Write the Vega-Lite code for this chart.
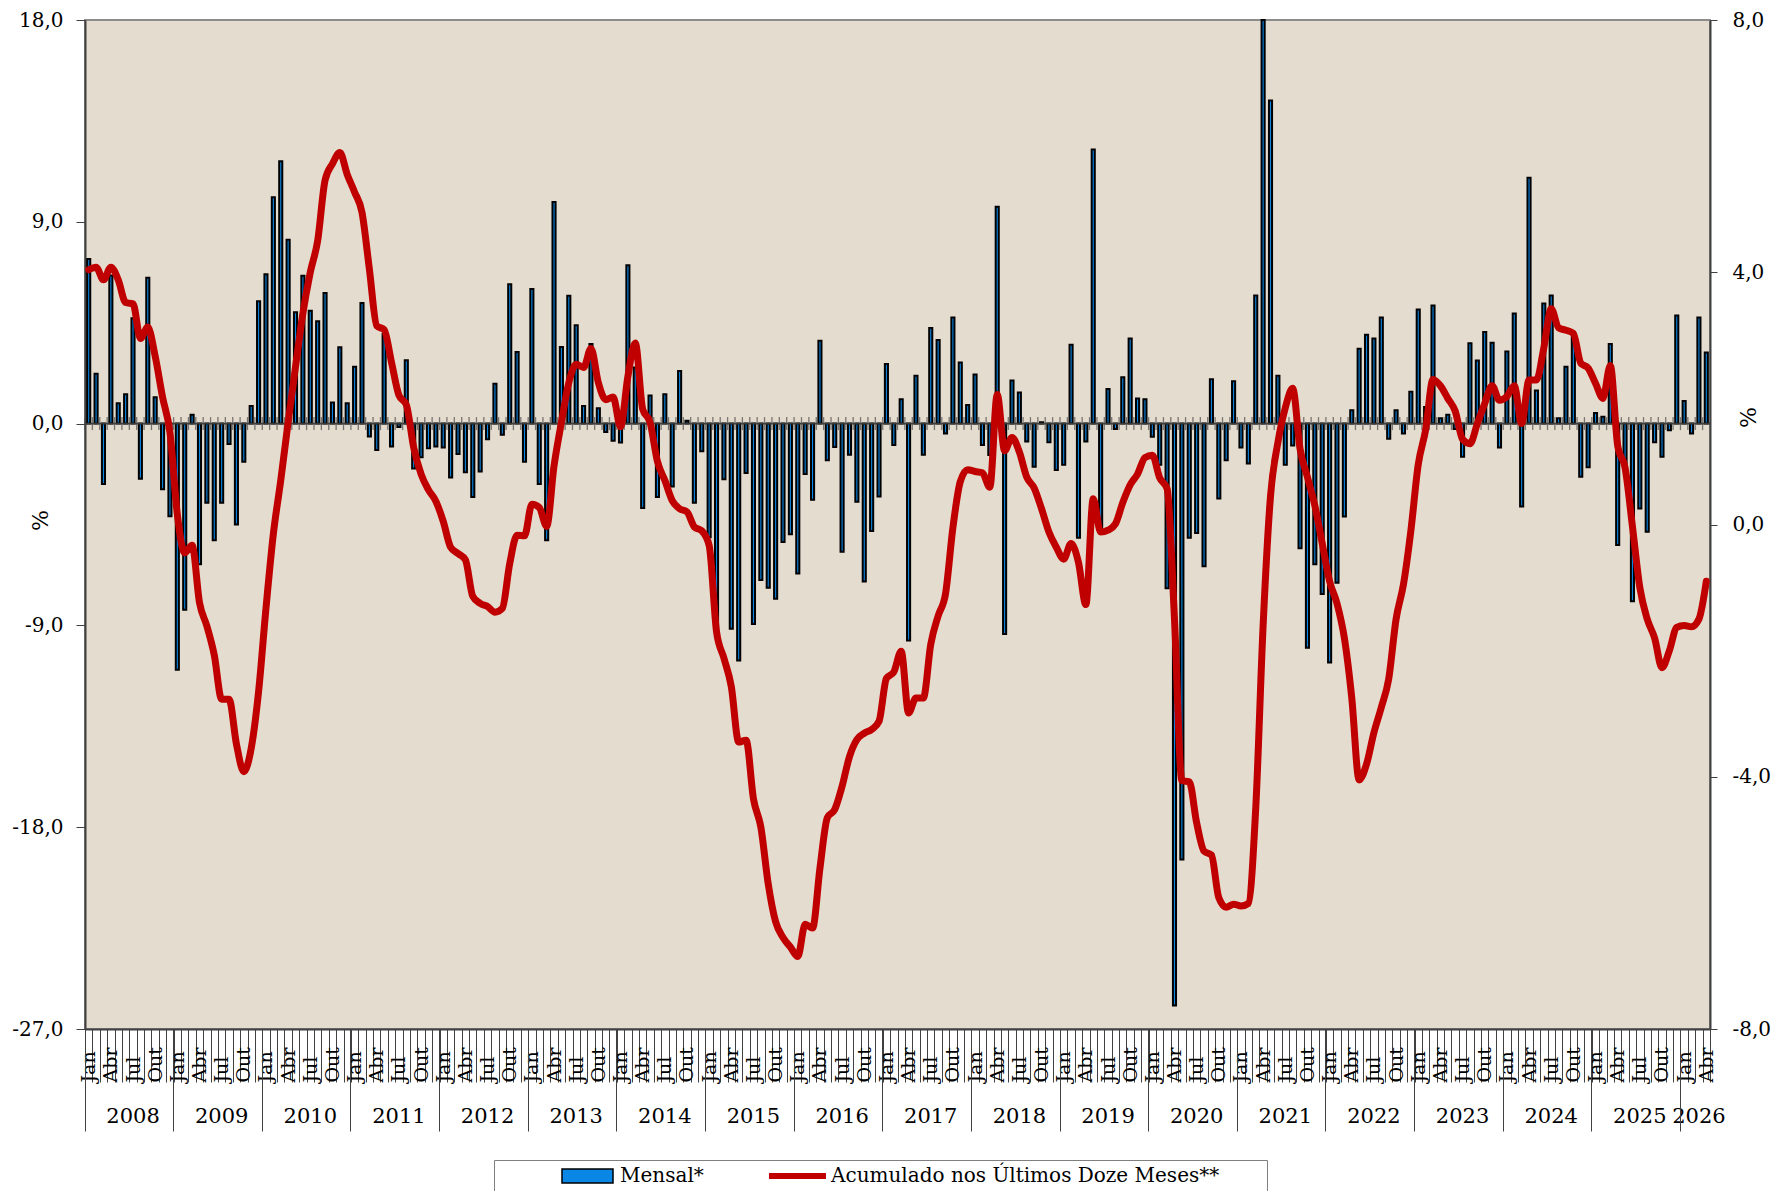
{
  "$schema": "https://vega.github.io/schema/vega-lite/v6.json",
  "width": 1625,
  "height": 1009,
  "autosize": "none",
  "padding": {"left": 85, "top": 20, "right": 63, "bottom": 162},
  "background": "#ffffff",
  "config": {
    "view": {"stroke": "#8c8c8c", "strokeWidth": 2, "fill": "#e4dccf"},
    "font": "DejaVu Serif",
    "axis": {"labelFont": "DejaVu Serif", "titleFont": "DejaVu Serif", "labelColor": "#000000", "titleColor": "#000000", "grid": false}
  },
  "data": {
    "values": [
      {"t": "2008-01", "mensal": 7.34, "acum": 4.04},
      {"t": "2008-02", "mensal": 2.22, "acum": 4.08},
      {"t": "2008-03", "mensal": -2.69, "acum": 3.88},
      {"t": "2008-04", "mensal": 6.61, "acum": 4.08},
      {"t": "2008-05", "mensal": 0.91, "acum": 3.88},
      {"t": "2008-06", "mensal": 1.31, "acum": 3.52},
      {"t": "2008-07", "mensal": 4.7, "acum": 3.5},
      {"t": "2008-08", "mensal": -2.46, "acum": 2.95},
      {"t": "2008-09", "mensal": 6.51, "acum": 3.13},
      {"t": "2008-10", "mensal": 1.18, "acum": 2.67},
      {"t": "2008-11", "mensal": -2.93, "acum": 2.02},
      {"t": "2008-12", "mensal": -4.13, "acum": 1.46},
      {"t": "2009-01", "mensal": -10.98, "acum": 0.16},
      {"t": "2009-02", "mensal": -8.3, "acum": -0.45},
      {"t": "2009-03", "mensal": 0.4, "acum": -0.33},
      {"t": "2009-04", "mensal": -6.27, "acum": -1.24},
      {"t": "2009-05", "mensal": -3.53, "acum": -1.61},
      {"t": "2009-06", "mensal": -5.2, "acum": -2.07},
      {"t": "2009-07", "mensal": -3.53, "acum": -2.77},
      {"t": "2009-08", "mensal": -0.91, "acum": -2.77},
      {"t": "2009-09", "mensal": -4.5, "acum": -3.48},
      {"t": "2009-10", "mensal": -1.7, "acum": -3.92},
      {"t": "2009-11", "mensal": 0.78, "acum": -3.55},
      {"t": "2009-12", "mensal": 5.46, "acum": -2.65},
      {"t": "2010-01", "mensal": 6.66, "acum": -1.33},
      {"t": "2010-02", "mensal": 10.1, "acum": -0.15},
      {"t": "2010-03", "mensal": 11.7, "acum": 0.7},
      {"t": "2010-04", "mensal": 8.2, "acum": 1.62},
      {"t": "2010-05", "mensal": 4.97, "acum": 2.5},
      {"t": "2010-06", "mensal": 6.59, "acum": 3.35},
      {"t": "2010-07", "mensal": 5.03, "acum": 4.0},
      {"t": "2010-08", "mensal": 4.57, "acum": 4.5},
      {"t": "2010-09", "mensal": 5.83, "acum": 5.46},
      {"t": "2010-10", "mensal": 0.94, "acum": 5.72},
      {"t": "2010-11", "mensal": 3.4, "acum": 5.9},
      {"t": "2010-12", "mensal": 0.91, "acum": 5.55},
      {"t": "2011-01", "mensal": 2.54, "acum": 5.27},
      {"t": "2011-02", "mensal": 5.38, "acum": 4.95},
      {"t": "2011-03", "mensal": -0.57, "acum": 4.05},
      {"t": "2011-04", "mensal": -1.18, "acum": 3.15},
      {"t": "2011-05", "mensal": 4.0, "acum": 3.09},
      {"t": "2011-06", "mensal": -1.02, "acum": 2.57},
      {"t": "2011-07", "mensal": -0.15, "acum": 2.05},
      {"t": "2011-08", "mensal": 2.82, "acum": 1.9},
      {"t": "2011-09", "mensal": -2.0, "acum": 1.22},
      {"t": "2011-10", "mensal": -1.5, "acum": 0.8},
      {"t": "2011-11", "mensal": -1.1, "acum": 0.55},
      {"t": "2011-12", "mensal": -1.02, "acum": 0.37},
      {"t": "2012-01", "mensal": -1.07, "acum": 0.05},
      {"t": "2012-02", "mensal": -2.4, "acum": -0.36},
      {"t": "2012-03", "mensal": -1.36, "acum": -0.46},
      {"t": "2012-04", "mensal": -2.17, "acum": -0.56},
      {"t": "2012-05", "mensal": -3.27, "acum": -1.14},
      {"t": "2012-06", "mensal": -2.14, "acum": -1.25},
      {"t": "2012-07", "mensal": -0.7, "acum": -1.3},
      {"t": "2012-08", "mensal": 1.78, "acum": -1.39},
      {"t": "2012-09", "mensal": -0.5, "acum": -1.33},
      {"t": "2012-10", "mensal": 6.22, "acum": -0.62},
      {"t": "2012-11", "mensal": 3.19, "acum": -0.17},
      {"t": "2012-12", "mensal": -1.7, "acum": -0.18},
      {"t": "2013-01", "mensal": 6.0, "acum": 0.32},
      {"t": "2013-02", "mensal": -2.69, "acum": 0.27},
      {"t": "2013-03", "mensal": -5.2, "acum": -0.03},
      {"t": "2013-04", "mensal": 9.88, "acum": 0.93},
      {"t": "2013-05", "mensal": 3.42, "acum": 1.62},
      {"t": "2013-06", "mensal": 5.7, "acum": 2.25},
      {"t": "2013-07", "mensal": 4.39, "acum": 2.54},
      {"t": "2013-08", "mensal": 0.78, "acum": 2.49},
      {"t": "2013-09", "mensal": 3.55, "acum": 2.79},
      {"t": "2013-10", "mensal": 0.68, "acum": 2.25},
      {"t": "2013-11", "mensal": -0.37, "acum": 1.98},
      {"t": "2013-12", "mensal": -0.76, "acum": 2.02},
      {"t": "2014-01", "mensal": -0.84, "acum": 1.55},
      {"t": "2014-02", "mensal": 7.06, "acum": 2.35},
      {"t": "2014-03", "mensal": 2.5, "acum": 2.88},
      {"t": "2014-04", "mensal": -3.76, "acum": 1.83},
      {"t": "2014-05", "mensal": 1.25, "acum": 1.62},
      {"t": "2014-06", "mensal": -3.27, "acum": 1.0},
      {"t": "2014-07", "mensal": 1.31, "acum": 0.7},
      {"t": "2014-08", "mensal": -2.8, "acum": 0.38},
      {"t": "2014-09", "mensal": 2.35, "acum": 0.25},
      {"t": "2014-10", "mensal": 0.13, "acum": 0.2},
      {"t": "2014-11", "mensal": -3.53, "acum": -0.04},
      {"t": "2014-12", "mensal": -1.23, "acum": -0.1},
      {"t": "2015-01", "mensal": -5.07, "acum": -0.33},
      {"t": "2015-02", "mensal": -9.5, "acum": -1.7},
      {"t": "2015-03", "mensal": -2.48, "acum": -2.12},
      {"t": "2015-04", "mensal": -9.15, "acum": -2.57},
      {"t": "2015-05", "mensal": -10.56, "acum": -3.45},
      {"t": "2015-06", "mensal": -2.2, "acum": -3.42},
      {"t": "2015-07", "mensal": -8.94, "acum": -4.35},
      {"t": "2015-08", "mensal": -6.98, "acum": -4.8},
      {"t": "2015-09", "mensal": -7.32, "acum": -5.7},
      {"t": "2015-10", "mensal": -7.81, "acum": -6.3},
      {"t": "2015-11", "mensal": -5.28, "acum": -6.55},
      {"t": "2015-12", "mensal": -4.94, "acum": -6.7},
      {"t": "2016-01", "mensal": -6.69, "acum": -6.85},
      {"t": "2016-02", "mensal": -2.25, "acum": -6.34},
      {"t": "2016-03", "mensal": -3.4, "acum": -6.4},
      {"t": "2016-04", "mensal": 3.7, "acum": -5.45},
      {"t": "2016-05", "mensal": -1.63, "acum": -4.65},
      {"t": "2016-06", "mensal": -1.04, "acum": -4.52},
      {"t": "2016-07", "mensal": -5.71, "acum": -4.15},
      {"t": "2016-08", "mensal": -1.39, "acum": -3.68},
      {"t": "2016-09", "mensal": -3.49, "acum": -3.41},
      {"t": "2016-10", "mensal": -7.04, "acum": -3.31},
      {"t": "2016-11", "mensal": -4.79, "acum": -3.25},
      {"t": "2016-12", "mensal": -3.25, "acum": -3.12},
      {"t": "2017-01", "mensal": 2.66, "acum": -2.44},
      {"t": "2017-02", "mensal": -0.95, "acum": -2.34},
      {"t": "2017-03", "mensal": 1.09, "acum": -2.01},
      {"t": "2017-04", "mensal": -9.67, "acum": -2.99},
      {"t": "2017-05", "mensal": 2.13, "acum": -2.75},
      {"t": "2017-06", "mensal": -1.39, "acum": -2.75},
      {"t": "2017-07", "mensal": 4.26, "acum": -1.9},
      {"t": "2017-08", "mensal": 3.73, "acum": -1.45},
      {"t": "2017-09", "mensal": -0.44, "acum": -1.1},
      {"t": "2017-10", "mensal": 4.73, "acum": -0.05},
      {"t": "2017-11", "mensal": 2.72, "acum": 0.68},
      {"t": "2017-12", "mensal": 0.83, "acum": 0.87},
      {"t": "2018-01", "mensal": 2.19, "acum": 0.84},
      {"t": "2018-02", "mensal": -0.95, "acum": 0.82},
      {"t": "2018-03", "mensal": -1.4, "acum": 0.59},
      {"t": "2018-04", "mensal": 9.67, "acum": 2.06},
      {"t": "2018-05", "mensal": -9.38, "acum": 1.17},
      {"t": "2018-06", "mensal": 1.92, "acum": 1.38},
      {"t": "2018-07", "mensal": 1.39, "acum": 1.15},
      {"t": "2018-08", "mensal": -0.8, "acum": 0.75},
      {"t": "2018-09", "mensal": -1.92, "acum": 0.58},
      {"t": "2018-10", "mensal": 0.06, "acum": 0.25},
      {"t": "2018-11", "mensal": -0.83, "acum": -0.12},
      {"t": "2018-12", "mensal": -2.07, "acum": -0.36},
      {"t": "2019-01", "mensal": -1.83, "acum": -0.55},
      {"t": "2019-02", "mensal": 3.52, "acum": -0.3},
      {"t": "2019-03", "mensal": -5.09, "acum": -0.6},
      {"t": "2019-04", "mensal": -0.8, "acum": -1.27},
      {"t": "2019-05", "mensal": 12.22, "acum": 0.41},
      {"t": "2019-06", "mensal": -4.7, "acum": -0.12},
      {"t": "2019-07", "mensal": 1.54, "acum": -0.09},
      {"t": "2019-08", "mensal": -0.24, "acum": 0.01},
      {"t": "2019-09", "mensal": 2.07, "acum": 0.35},
      {"t": "2019-10", "mensal": 3.79, "acum": 0.63},
      {"t": "2019-11", "mensal": 1.12, "acum": 0.8},
      {"t": "2019-12", "mensal": 1.09, "acum": 1.06},
      {"t": "2020-01", "mensal": -0.59, "acum": 1.1},
      {"t": "2020-02", "mensal": -1.83, "acum": 0.74},
      {"t": "2020-03", "mensal": -7.34, "acum": 0.57},
      {"t": "2020-04", "mensal": -25.95, "acum": -1.5},
      {"t": "2020-05", "mensal": -19.44, "acum": -4.06},
      {"t": "2020-06", "mensal": -5.09, "acum": -4.08},
      {"t": "2020-07", "mensal": -4.88, "acum": -4.73},
      {"t": "2020-08", "mensal": -6.36, "acum": -5.18},
      {"t": "2020-09", "mensal": 1.98, "acum": -5.24},
      {"t": "2020-10", "mensal": -3.34, "acum": -5.92},
      {"t": "2020-11", "mensal": -1.63, "acum": -6.07},
      {"t": "2020-12", "mensal": 1.89, "acum": -6.02},
      {"t": "2021-01", "mensal": -1.07, "acum": -6.05},
      {"t": "2021-02", "mensal": -1.78, "acum": -6.01},
      {"t": "2021-03", "mensal": 5.71, "acum": -4.5},
      {"t": "2021-04", "mensal": 18.0, "acum": -1.6},
      {"t": "2021-05", "mensal": 14.41, "acum": 0.45},
      {"t": "2021-06", "mensal": 2.13, "acum": 1.3},
      {"t": "2021-07", "mensal": -1.83, "acum": 1.85},
      {"t": "2021-08", "mensal": -0.98, "acum": 2.16},
      {"t": "2021-09", "mensal": -5.56, "acum": 1.2},
      {"t": "2021-10", "mensal": -10.0, "acum": 0.75},
      {"t": "2021-11", "mensal": -6.27, "acum": 0.3},
      {"t": "2021-12", "mensal": -7.6, "acum": -0.3},
      {"t": "2022-01", "mensal": -10.65, "acum": -0.9},
      {"t": "2022-02", "mensal": -7.1, "acum": -1.25},
      {"t": "2022-03", "mensal": -4.14, "acum": -1.8},
      {"t": "2022-04", "mensal": 0.59, "acum": -2.75},
      {"t": "2022-05", "mensal": 3.34, "acum": -4.05},
      {"t": "2022-06", "mensal": 3.96, "acum": -3.8},
      {"t": "2022-07", "mensal": 3.79, "acum": -3.3},
      {"t": "2022-08", "mensal": 4.73, "acum": -2.9},
      {"t": "2022-09", "mensal": -0.68, "acum": -2.45},
      {"t": "2022-10", "mensal": 0.59, "acum": -1.5},
      {"t": "2022-11", "mensal": -0.44, "acum": -0.95},
      {"t": "2022-12", "mensal": 1.42, "acum": -0.1},
      {"t": "2023-01", "mensal": 5.09, "acum": 0.95},
      {"t": "2023-02", "mensal": 0.74, "acum": 1.5},
      {"t": "2023-03", "mensal": 5.27, "acum": 2.3},
      {"t": "2023-04", "mensal": 0.24, "acum": 2.2},
      {"t": "2023-05", "mensal": 0.4, "acum": 2.0},
      {"t": "2023-06", "mensal": -0.24, "acum": 1.8},
      {"t": "2023-07", "mensal": -1.48, "acum": 1.35},
      {"t": "2023-08", "mensal": 3.58, "acum": 1.28},
      {"t": "2023-09", "mensal": 2.81, "acum": 1.6},
      {"t": "2023-10", "mensal": 4.08, "acum": 1.92},
      {"t": "2023-11", "mensal": 3.61, "acum": 2.2},
      {"t": "2023-12", "mensal": -1.07, "acum": 1.97},
      {"t": "2024-01", "mensal": 3.22, "acum": 2.03},
      {"t": "2024-02", "mensal": 4.91, "acum": 2.2},
      {"t": "2024-03", "mensal": -3.7, "acum": 1.6},
      {"t": "2024-04", "mensal": 10.96, "acum": 2.29},
      {"t": "2024-05", "mensal": 1.48, "acum": 2.29},
      {"t": "2024-06", "mensal": 5.36, "acum": 2.8},
      {"t": "2024-07", "mensal": 5.71, "acum": 3.42},
      {"t": "2024-08", "mensal": 0.24, "acum": 3.12},
      {"t": "2024-09", "mensal": 2.54, "acum": 3.08},
      {"t": "2024-10", "mensal": 3.91, "acum": 3.03},
      {"t": "2024-11", "mensal": -2.37, "acum": 2.56},
      {"t": "2024-12", "mensal": -1.95, "acum": 2.48},
      {"t": "2025-01", "mensal": 0.47, "acum": 2.24},
      {"t": "2025-02", "mensal": 0.3, "acum": 2.0},
      {"t": "2025-03", "mensal": 3.55, "acum": 2.52},
      {"t": "2025-04", "mensal": -5.41, "acum": 1.25},
      {"t": "2025-05", "mensal": -2.0, "acum": 0.9},
      {"t": "2025-06", "mensal": -7.92, "acum": -0.03},
      {"t": "2025-07", "mensal": -3.79, "acum": -1.0},
      {"t": "2025-08", "mensal": -4.82, "acum": -1.5},
      {"t": "2025-09", "mensal": -0.83, "acum": -1.8},
      {"t": "2025-10", "mensal": -1.48, "acum": -2.27},
      {"t": "2025-11", "mensal": -0.3, "acum": -2.0},
      {"t": "2025-12", "mensal": 4.82, "acum": -1.63},
      {"t": "2026-01", "mensal": 1.01, "acum": -1.6},
      {"t": "2026-02", "mensal": -0.44, "acum": -1.62},
      {"t": "2026-03", "mensal": 4.73, "acum": -1.5},
      {"t": "2026-04", "mensal": 3.17, "acum": -0.9}
    ]
  },
  "layer": [
    {
      "mark": {"type": "bar", "stroke": "#000000", "strokeWidth": 2, "width": {"band": 0.42}},
      "encoding": {
        "x": {
          "field": "t",
          "type": "ordinal",
          "scale": {"paddingInner": 0, "paddingOuter": 0},
          "axis": {
            "orient": "bottom",
            "title": null,
            "tickBand": "extent",
            "tickSize": 53,
            "tickWidth": 1,
            "tickColor": "#404040",
            "domainColor": "#404040",
            "domainWidth": 2,
            "labelExpr": "substring(datum.value,5,7)=='01'?'Jan':substring(datum.value,5,7)=='04'?'Abr':substring(datum.value,5,7)=='07'?'Jul':substring(datum.value,5,7)=='10'?'Out':''",
            "labelAngle": 270,
            "labelAlign": "left",
            "labelBaseline": "middle",
            "labelPadding": 0,
            "labelFontSize": 19,
            "labelOverlap": false,
            "labelBound": false,
            "labelFlush": false
          }
        },
        "y": {
          "field": "mensal",
          "type": "quantitative",
          "scale": {"domain": [-27, 18], "nice": false},
          "axis": {
            "orient": "left",
            "values": [-27, -18, -9, 0, 9, 18],
            "labelExpr": "(datum.value < 0 ? '-' : '') + replace(format(abs(datum.value), '.1f'), '.', ',')",
            "tickSize": 9,
            "tickColor": "#404040",
            "domainColor": "#404040",
            "domainWidth": 2,
            "labelFontSize": 20,
            "labelPadding": 13,
            "title": "%",
            "titleFontSize": 22,
            "titleFontWeight": "normal",
            "titleAngle": 270,
            "titleAlign": "center",
            "titleBaseline": "middle",
            "titleX": -45,
            "titleY": 500
          }
        },
        "fill": {
          "datum": "Mensal*",
          "type": "nominal",
          "scale": {"domain": ["Mensal*"], "range": ["#0a86e4"]},
          "legend": {
            "orient": "none",
            "legendX": 409,
            "legendY": 1142,
            "direction": "horizontal",
            "title": " ",
            "titleOrient": "left",
            "titlePadding": 64,
            "titleFontSize": 10,
            "padding": 3,
            "strokeColor": null,
            "fillColor": null,
            "labelFont": "DejaVu Serif",
            "labelFontSize": 20,
            "labelColor": "#000000",
            "labelLimit": 900,
            "labelOffset": 37,
            "symbolType": "M-1,-0.69H4.1V0.69H-1Z",
            "symbolSize": 400,
            "symbolStrokeColor": "#000000",
            "symbolStrokeWidth": 1.5,
            "symbolOpacity": 1
          }
        }
      }
    },
    {
      "data": {"values": [{}]},
      "mark": {"type": "rule", "color": "#3a3a3a", "strokeWidth": 1.8},
      "encoding": {
        "y": {"datum": 0, "type": "quantitative", "scale": {"domain": [-27, 18], "nice": false}, "axis": null}
      }
    },
    {
      "mark": {"type": "tick", "orient": "vertical", "size": 13, "thickness": 1.3, "color": "#4a4a4a"},
      "encoding": {
        "x": {
          "field": "t",
          "type": "ordinal",
          "bandPosition": 0,
          "axis": {
            "orient": "bottom",
            "title": null,
            "values": ["2008-07", "2009-07", "2010-07", "2011-07", "2012-07", "2013-07", "2014-07", "2015-07", "2016-07", "2017-07", "2018-07", "2019-07", "2020-07", "2021-07", "2022-07", "2023-07", "2024-07", "2025-07", "2026-03"],
            "bandPosition": 0,
            "ticks": false,
            "domain": false,
            "labelExpr": "substring(datum.value,0,4)",
            "labelAngle": 0,
            "labelAlign": "center",
            "labelBaseline": "middle",
            "labelPadding": 87,
            "labelFontSize": 21,
            "labelOverlap": false,
            "labelBound": false,
            "labelFlush": false
          }
        },
        "y": {"datum": 0, "type": "quantitative", "scale": {"domain": [-27, 18], "nice": false}, "axis": null}
      }
    },
    {
      "mark": {"type": "line", "strokeWidth": 7, "interpolate": "monotone", "strokeCap": "round", "strokeJoin": "round"},
      "encoding": {
        "x": {
          "field": "t",
          "type": "ordinal",
          "axis": {
            "orient": "bottom",
            "title": null,
            "values": ["2008-01", "2009-01", "2010-01", "2011-01", "2012-01", "2013-01", "2014-01", "2015-01", "2016-01", "2017-01", "2018-01", "2019-01", "2020-01", "2021-01", "2022-01", "2023-01", "2024-01", "2025-01", "2026-01"],
            "bandPosition": 0,
            "tickSize": 102,
            "tickWidth": 1,
            "tickColor": "#404040",
            "labels": false,
            "domain": false
          }
        },
        "y": {
          "field": "acum",
          "type": "quantitative",
          "scale": {"domain": [-8, 8], "nice": false},
          "axis": {
            "orient": "right",
            "values": [-8, -4, 0, 4, 8],
            "labelExpr": "(datum.value < 0 ? '-' : '') + replace(format(abs(datum.value), '.1f'), '.', ',')",
            "tickSize": 7,
            "tickColor": "#404040",
            "domainColor": "#404040",
            "domainWidth": 2,
            "labelFontSize": 20,
            "labelPadding": 15,
            "title": "%",
            "titleFontSize": 22,
            "titleFontWeight": "normal",
            "titleAngle": 270,
            "titleAlign": "center",
            "titleBaseline": "middle",
            "titleX": 38,
            "titleY": 397
          }
        },
        "stroke": {
          "datum": "Acumulado nos Últimos Doze Meses**",
          "type": "nominal",
          "scale": {"domain": ["Acumulado nos Últimos Doze Meses**"], "range": ["#c00000"]},
          "legend": {
            "orient": "none",
            "legendX": 409,
            "legendY": 1140,
            "direction": "horizontal",
            "title": " ",
            "titleOrient": "left",
            "titlePadding": 272,
            "titleFontSize": 10,
            "padding": 3,
            "strokeColor": "#7f7f7f",
            "fillColor": null,
            "labelFont": "DejaVu Serif",
            "labelFontSize": 20,
            "labelColor": "#000000",
            "labelLimit": 1200,
            "labelOffset": 36,
            "labelExpr": "datum.label + '\u2800\u2800\u2800'",
            "symbolType": "M-1.3,0H4.4",
            "symbolSize": 400,
            "symbolStrokeWidth": 6,
            "symbolFillColor": "transparent",
            "symbolOpacity": 1
          }
        }
      }
    }
  ],
  "resolve": {
    "scale": {"y": "independent"},
    "axis": {"x": "independent", "y": "independent"}
  }
}
